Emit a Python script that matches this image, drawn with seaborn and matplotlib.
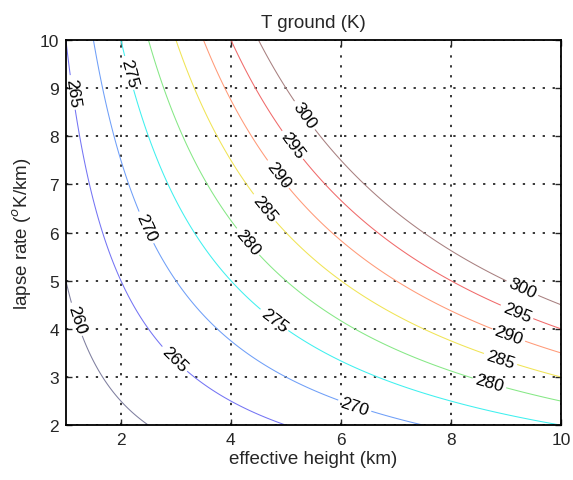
import numpy as np
import matplotlib
matplotlib.use('Agg')
import matplotlib.pyplot as plt
import seaborn as sns

# values: T_ground = T_eff + lapse * height
T_eff = 255.0
levels = [260, 265, 270, 275, 280, 285, 290, 295, 300]
line_colors = ['#7f7f9f', '#7474f4', '#6f9ff8', '#3ff0ef', '#86e886',
               '#f0e455', '#ff9a78', '#f06a6a', '#a88080']
height_range = [1, 10]   # km
lapse_range = [2, 10]    # K/km
x_ticks = [2, 4, 6, 8, 10]
y_ticks = [2, 3, 4, 5, 6, 7, 8, 9, 10]

# where the inline labels sit (data coords)
label_pos = [(1.07, 8.9), (2.1, 9.3), (5.3, 8.4), (5.1, 7.8), (4.85, 7.2),
             (4.6, 6.5), (4.3, 5.8), (2.45, 6.1), (1.2, 4.2), (3.0, 3.4),
             (4.8, 4.2), (9.3, 4.85), (9.2, 4.35), (9.05, 3.87), (8.9, 3.37),
             (8.7, 2.88), (6.25, 2.4)]

sns.set_style('ticks')
plt.rcParams['font.family'] = ['Liberation Sans', 'DejaVu Sans']
plt.rcParams['xtick.direction'] = 'in'
plt.rcParams['ytick.direction'] = 'in'

H, L = np.meshgrid(np.linspace(*height_range, 361), np.linspace(*lapse_range, 321))
T = T_eff + H * L

fig = plt.figure(figsize=(5.73, 4.81), dpi=100)
ax = fig.add_axes([0.115, 0.114, 0.864, 0.801])

cs = ax.contour(H, L, T, levels=levels, colors=line_colors, linewidths=0.75)
ax.clabel(cs, manual=label_pos, inline=True, fontsize=12.5, colors='black', fmt='%d',
          inline_spacing=3)

ax.set_xlim(height_range)
ax.set_ylim(lapse_range)
ax.set_xticks(x_ticks)
ax.set_yticks(y_ticks)
ax.tick_params(labelsize=12.5, length=4, width=1, top=True, right=True, pad=5)
ax.grid(True, linestyle=(0, (1.5, 5)), color='black', linewidth=1.1)
for s in ax.spines.values():
    s.set_linewidth(1.3)
    s.set_color('black')

ax.set_title('T ground (K)', fontsize=13.5, pad=9)
ax.set_xlabel('effective height (km)', fontsize=13.5, labelpad=2)
ax.set_ylabel('lapse rate ($^o$K/km)', fontsize=13.5, labelpad=4)

fig.savefig('out.png', dpi=100)
